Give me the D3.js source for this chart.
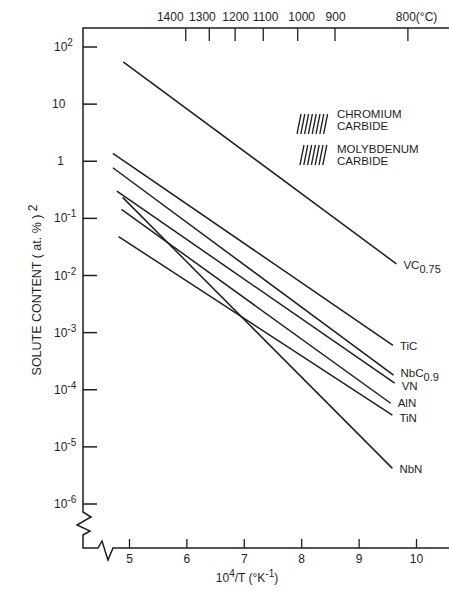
<!DOCTYPE html>
<html>
<head>
<meta charset="utf-8">
<script src="https://cdn.jsdelivr.net/npm/d3@7"></script>
<style>
  html, body { margin: 0; padding: 0; background: #ffffff; }
  svg { display: block; }
  text { font-family: "Liberation Sans", Arial, Helvetica, sans-serif; fill: #1e1e1e; }
</style>
</head>
<body>
<svg id="chart" width="449" height="590"></svg>
<script>
// Solubility lines: solute content (at.%)^2 against 10^4/T, from end to end
const solutes      = ["VC", "TiC", "NbC", "VN", "AlN", "TiN", "NbN"];
const subscripts   = ["0.75", "", "0.9", "", "", "", ""];
const invTStart    = [4.89, 4.71, 4.71, 4.78, 4.86, 4.81, 4.88];
const contentStart = [55, 1.37, 0.77, 0.30, 0.144, 0.048, 0.233];
const invTEnd      = [9.65, 9.59, 9.60, 9.62, 9.55, 9.58, 9.58];
const contentEnd   = [1.6e-2, 6.0e-4, 1.8e-4, 1.3e-4, 5.8e-5, 3.6e-5, 4.2e-6];

// Axis ticks
const invTTicks    = [5, 6, 7, 8, 9, 10];
const contentExps  = [2, 1, 0, -1, -2, -3, -4, -5, -6];
const celsiusLabels = ["1400", "1300", "1200", "1100", "1000", "900", "800"];
const celsiusTickAt = [5.98, 6.39, 6.84, 7.33, 7.93, 8.58, 9.85];
const celsiusLabelAt = [5.71, 6.27, 6.85, 7.37, 8.0, 8.59, 9.64];

// Legend entries
const legendNames = [["CHROMIUM", "CARBIDE"], ["MOLYBDENUM", "CARBIDE"]];
const legendStrokes = [8, 7];

const svg = d3.select("#chart");
const ink = "#1e1e1e";

const x = d3.scaleLinear().domain([5, 10]).range([129.5, 416.5]);
const y = d3.scaleLog().domain([1e-6, 1e2]).range([504, 47]);

const axisX = 83, topY = 28, bottomY = 548, rightX = 449;

// Frame: top axis, broken left axis, broken bottom axis
svg.append("path")
  .attr("fill", "none").attr("stroke", ink).attr("stroke-width", 1.5)
  .attr("stroke-linejoin", "miter")
  .attr("d", d3.line()([
    [rightX, topY], [axisX, topY], [axisX, 512],
    [91, 517], [77, 525], [90, 531], [axisX, 535],
    [axisX, bottomY], [98, bottomY],
    [102, 541], [108, 560], [113, bottomY], [rightX, bottomY]
  ]));

// Left axis ticks (inward) and labels
const yTicks = svg.append("g");
contentExps.forEach(e => {
  const yy = y(Math.pow(10, e));
  yTicks.append("line")
    .attr("x1", axisX).attr("x2", axisX + 14)
    .attr("y1", yy).attr("y2", yy)
    .attr("stroke", ink).attr("stroke-width", 1.5);
  const t = yTicks.append("text")
    .attr("y", yy).attr("dominant-baseline", "central")
    .attr("font-size", 12);
  if (e === 0) {
    t.attr("x", 60.5).attr("text-anchor", "middle").text("1");
  } else if (e === 1) {
    t.attr("x", 52).text("10");
  } else {
    t.attr("x", 54).text("10");
    t.append("tspan").attr("font-size", 10).attr("dy", -5)
      .text(e > 0 ? String(e) : "-" + Math.abs(e));
  }
});

// Bottom axis ticks (inward) and labels
const xTicks = svg.append("g");
invTTicks.forEach(v => {
  const xx = x(v);
  xTicks.append("line")
    .attr("x1", xx).attr("x2", xx)
    .attr("y1", bottomY).attr("y2", bottomY - 9)
    .attr("stroke", ink).attr("stroke-width", 1.3);
  xTicks.append("text")
    .attr("x", xx).attr("y", 559).attr("dominant-baseline", "central")
    .attr("text-anchor", "middle").attr("font-size", 12)
    .text(String(v));
});

// Top temperature ticks and labels (°C)
const tTicks = svg.append("g");
celsiusLabels.forEach((lab, i) => {
  const xx = x(celsiusTickAt[i]);
  tTicks.append("line")
    .attr("x1", xx).attr("x2", xx)
    .attr("y1", topY).attr("y2", topY + 13)
    .attr("stroke", ink).attr("stroke-width", 1.3);
  const last = i === celsiusLabels.length - 1;
  tTicks.append("text")
    .attr("x", x(celsiusLabelAt[i])).attr("y", 17)
    .attr("dominant-baseline", "central")
    .attr("text-anchor", last ? "start" : "middle")
    .attr("font-size", 12)
    .text(last ? lab + "(°C)" : lab);
});

// Axis titles
const yTitle = svg.append("text")
  .attr("transform", "translate(37,290) rotate(-90)")
  .attr("text-anchor", "middle").attr("dominant-baseline", "central")
  .attr("font-size", 12.5);
yTitle.append("tspan").text("SOLUTE CONTENT  ( at. % )");
yTitle.append("tspan").attr("font-size", 12).attr("dy", -4).text(" 2");

const xTitle = svg.append("text")
  .attr("x", 247).attr("y", 578)
  .attr("text-anchor", "middle").attr("dominant-baseline", "central")
  .attr("font-size", 12);
xTitle.append("tspan").text("10");
xTitle.append("tspan").attr("font-size", 10).attr("dy", -5).text("4");
xTitle.append("tspan").attr("dy", 5).text("/T (°K");
xTitle.append("tspan").attr("font-size", 10).attr("dy", -5).text("-1");
xTitle.append("tspan").attr("dy", 5).text(")");

// Solubility lines with their end labels
const labelShift = { NbC: -3, VN: 1.5, AlN: -1, TiN: 1.5 };
const lines = svg.append("g");
solutes.forEach((name, i) => {
  const x1 = x(invTStart[i]), y1 = y(contentStart[i]);
  const x2 = x(invTEnd[i]), y2 = y(contentEnd[i]);
  lines.append("line")
    .attr("x1", x1).attr("y1", y1).attr("x2", x2).attr("y2", y2)
    .attr("stroke", ink).attr("stroke-width", 1.5);
  const lab = lines.append("text")
    .attr("x", x2 + 7).attr("y", y2 + 1 + (labelShift[name] || 0))
    .attr("dominant-baseline", "central")
    .attr("font-size", 11.5);
  lab.append("tspan").text(name);
  if (subscripts[i]) {
    lab.append("tspan").attr("font-size", 11).attr("dy", 4).text(subscripts[i]);
  }
});

// Legend: hatched swatches with two-line names
const legendTop = [114, 145];
const legend = svg.append("g");
legendNames.forEach((names, k) => {
  const top = legendTop[k];
  const left = k === 0 ? 297 : 300;
  d3.range(legendStrokes[k]).forEach(j => {
    const sx = left + j * 3.8;
    legend.append("line")
      .attr("x1", sx).attr("y1", top + 20)
      .attr("x2", sx + 4).attr("y2", top)
      .attr("stroke", ink).attr("stroke-width", 1.3);
  });
  names.forEach((nm, r) => {
    legend.append("text")
      .attr("x", 337).attr("y", top + 4 + r * 12 + (k === 0 ? 0 : 4))
      .attr("font-size", 11.5)
      .text(nm);
  });
});
</script>
</body>
</html>
